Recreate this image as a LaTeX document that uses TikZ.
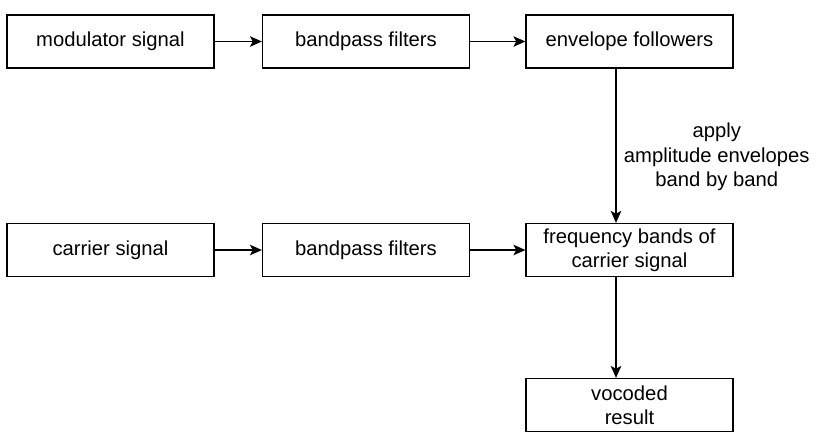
\documentclass[tikz,border=0pt]{standalone}
\usepackage{fontspec}
\setmainfont{Liberation Sans}
\usetikzlibrary{arrows.meta}

\begin{document}
\begin{tikzpicture}[auto,
	box/.style={draw, line width=0.9pt, minimum width=5.175cm, minimum height=1.325cm, align=center, inner sep=0pt},
	flow/.style={-{Stealth[length=8.5pt,width=7.5pt,inset=2pt]}, line width=0.9pt},
	font=\fontsize{14.4}{17.4}\selectfont]
%frame
	\useasboundingbox (0, 0) rectangle (20.6, -11.1);

%upper row
	\node[box] (mod)  at (2.7625, -1.0375) {modulator signal};
	\node[box] (bpm)  at (9.15, -1.0375) {bandpass filters};
	\node[box] (env)  at (15.7375, -1.0375) {envelope followers};

%lower row
	\node[box] (car)  at (2.7625, -6.25) {carrier signal};
	\node[box] (bpc)  at (9.15, -6.25) {bandpass filters};
	\node[box] (freq) at (15.7375, -6.25) {frequency bands of\\carrier signal};

%result
	\node[box] (voc)  at (15.7375, -10.125) {vocoded\\result};

%arrows
	\draw[flow] (mod) -- (bpm);
	\draw[flow] (bpm) -- (env);
	\draw[flow] (car) -- (bpc);
	\draw[flow] (bpc) -- (freq);

	\draw[flow] ([xshift=-0.3375cm]env.south) -- ([xshift=-0.3375cm]freq.north);
	\draw[flow] ([xshift=-0.3375cm]freq.south) -- ([xshift=-0.3375cm]voc.north);

%label
	\node[align=center] (apply) at (17.92, -3.925) {apply\\amplitude envelopes\\band by band};

\end{tikzpicture}
\end{document}
